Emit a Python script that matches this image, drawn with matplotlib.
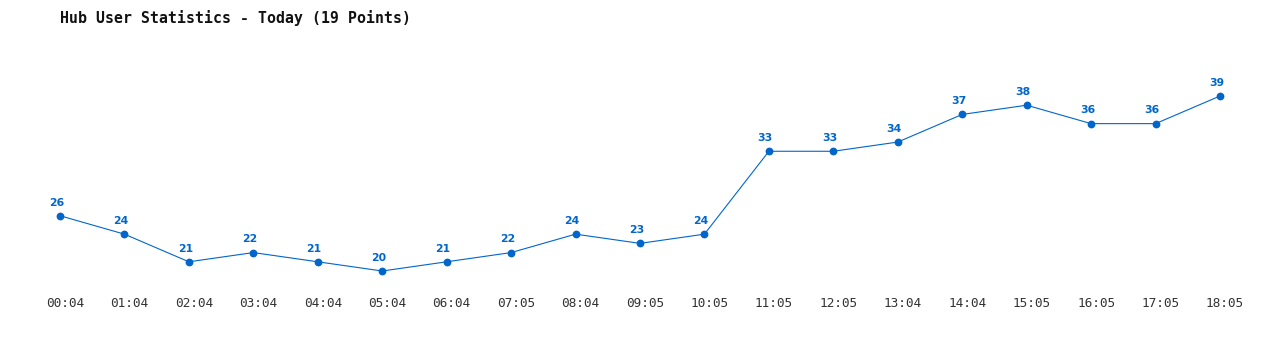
import matplotlib
matplotlib.use("Agg")
import matplotlib.pyplot as plt
from matplotlib.transforms import ScaledTranslation

times = ["00:04", "01:04", "02:04", "03:04", "04:04", "05:04", "06:04", "07:05", "08:04", "09:05",
         "10:05", "11:05", "12:05", "13:04", "14:04", "15:05", "16:05", "17:05", "18:05"]
users = [26, 24, 21, 22, 21, 20, 21, 22, 24, 23, 24, 33, 33, 34, 37, 38, 36, 36, 39]

W, H = 1280, 350
blue = "#0066cc"

fig = plt.figure(figsize=(W / 100, H / 100), dpi=100)
# axes area spans the first/last point horizontally, min/max value vertically
ax = fig.add_axes([60 / W, (H - 271) / H, 1160 / W, 175 / H])
x = list(range(len(users)))
ax.plot(x, users, color=blue, linewidth=0.8, marker="o", markersize=4.6, clip_on=False)
for xi, v in zip(x, users):
    ax.annotate(str(v), (xi, v), xytext=(-2.6, 9.5), textcoords="offset points",
                ha="center", va="center", fontsize=7.8, fontweight="bold",
                color=blue, family="DejaVu Sans")

ax.set_xlim(0, len(users) - 1)
ax.set_ylim(min(users), max(users))
ax.set_xticks(x)
ax.set_xticklabels(times, family="DejaVu Sans Mono", fontsize=9.2, color="#333333")
ax.tick_params(axis="x", length=0, pad=19)
shift = ScaledTranslation(5 / 100, 0, fig.dpi_scale_trans)
for lbl in ax.get_xticklabels():
    lbl.set_transform(lbl.get_transform() + shift)
ax.set_yticks([])
for s in ax.spines.values():
    s.set_visible(False)

fig.text(60 / W, 1 - 18 / H, "Hub User Statistics - Today (19 Points)",
         family="DejaVu Sans Mono", fontsize=10.7, fontweight="bold",
         color="#111111", va="center", ha="left")

fig.savefig("out.png", dpi=100, facecolor="white")
